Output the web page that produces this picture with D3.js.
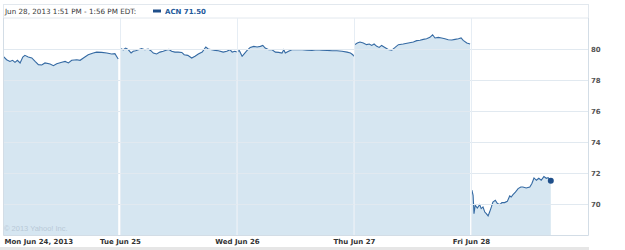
<!DOCTYPE html>
<html>
<head>
<meta charset="utf-8">
<script src="https://cdn.jsdelivr.net/npm/d3@7"></script>
<style>
  body { margin: 0; background: #fff; }
  svg { display: block; }
</style>
</head>
<body>
<div id="chart"></div>
<script>
// ACN intraday, Jun 24 - Jun 28 2013
var dayLabels = ["Mon Jun 24, 2013", "Tue Jun 25", "Wed Jun 26", "Thu Jun 27", "Fri Jun 28"];
var priceTicks = [70, 72, 74, 76, 78, 80];

// [minutes since 9:30 open, price]
var mon = [[1,79.53],[12,79.31],[23,79.2],[32,79.27],[40,79.14],[48,79.27],[57,79.1],[66,79.48],[73,79.59],[84,79.48],[96,79.42],[107,79.2],[118,78.99],[129,78.97],[140,79.1],[157,79.03],[168,78.92],[179,79.05],[196,79.14],[207,79.2],[218,79.1],[229,79.27],[246,79.31],[257,79.27],[268,79.42],[284,79.63],[301,79.74],[312,79.8],[329,79.78],[346,79.74],[362,79.68],[373,79.7],[384,79.35]];
var tue = [[3,80.02],[11,79.95],[19,80.06],[28,79.95],[37,79.74],[44,79.85],[52,79.89],[61,79.95],[72,80.02],[83,79.95],[94,80.0],[103,79.89],[111,79.74],[122,79.68],[133,79.8],[144,79.85],[156,79.93],[163,79.97],[172,79.85],[183,79.8],[194,79.8],[206,79.78],[214,79.63],[226,79.59],[239,79.42],[250,79.53],[261,79.68],[274,79.8],[286,80.13],[294,80.0],[306,79.95],[317,79.91],[328,79.89],[344,79.8],[356,79.85],[367,79.95],[374,79.8],[383,79.85],[389,79.8]];
var wed = [[1,79.85],[8,79.89],[17,79.53],[26,79.74],[33,79.89],[44,80.1],[56,80.17],[67,80.13],[78,80.17],[86,80.23],[94,80.06],[106,79.95],[117,79.95],[128,79.8],[139,79.78],[150,79.74],[156,79.95],[161,79.74],[172,79.85],[183,79.95],[200,79.97],[217,79.95],[233,79.93],[250,79.91],[267,79.95],[283,79.93],[300,79.91],[317,79.89],[333,79.89],[350,79.85],[367,79.8],[378,79.74],[386,79.63],[389,79.53]];
var thu = [[3,80.28],[11,80.39],[20,80.45],[31,80.39],[42,80.28],[51,80.32],[59,80.23],[67,80.32],[76,80.17],[84,80.1],[92,80.23],[103,80.1],[114,79.97],[126,79.93],[137,80.1],[148,80.28],[164,80.32],[181,80.39],[198,80.45],[209,80.54],[220,80.56],[231,80.62],[242,80.66],[253,80.75],[262,80.92],[270,80.71],[281,80.75],[292,80.71],[303,80.66],[314,80.6],[326,80.58],[337,80.62],[348,80.66],[357,80.71],[364,80.56],[376,80.39],[387,80.32]];
var fri = [[3,70.9],[7,70.56],[10,69.38],[14,69.92],[21,69.74],[29,69.96],[34,69.7],[40,69.81],[46,69.48],[51,69.38],[57,69.23],[62,69.48],[68,69.81],[73,70.13],[81,70.24],[88,70.03],[96,69.96],[103,70.09],[112,70.09],[121,70.17],[129,70.52],[134,70.45],[140,70.6],[148,70.77],[157,70.99],[166,71.1],[173,71.1],[184,71.03],[196,71.1],[203,71.32],[210,71.68],[218,71.53],[226,71.66],[234,71.53],[243,71.77],[251,71.66],[257,71.7],[266,71.5]];

var days = [mon, tue, wed, thu, fri];
var sessionMinutes = 390;

var svgWidth = 625;
var svgHeight = 250;

var svg = d3.select("#chart")
    .append("svg")
    .attr("width", svgWidth)
    .attr("height", svgHeight);

// plot box edges (window.top is reserved, so prefixed names)
var plotLeft = 3, plotRight = 588, plotTop = 18, plotBottom = 235;

var x = d3.scaleLinear()
    .domain([0, sessionMinutes * days.length])
    .range([plotLeft, plotRight]);

var y = d3.scaleLinear()
    .domain([68, 82])
    .range([plotBottom, plotTop]);

// header box
svg.append("rect")
    .attr("x", plotLeft + 0.5).attr("y", 4.5)
    .attr("width", plotRight - plotLeft).attr("height", plotTop - 4.5)
    .style("fill", "#fff")
    .style("stroke", "#e2e8ee");

svg.append("text")
    .attr("x", 5).attr("y", 14)
    .text("Jun 28, 2013 1:51 PM - 1:56 PM EDT:")
    .style("font-family", "DejaVu Sans")
    .style("font-size", "7.2px")
    .style("fill", "#3a3a3a");

svg.append("rect")
    .attr("x", 153).attr("y", 9.5)
    .attr("width", 8).attr("height", 3)
    .style("fill", "#1f4f8a");

svg.append("text")
    .attr("x", 165).attr("y", 14)
    .text("ACN 71.50")
    .style("font-family", "DejaVu Sans")
    .style("font-size", "7px")
    .style("font-weight", "bold")
    .style("fill", "#245a9b");

// areas and lines, one per trading day
var plot = svg.append("g");

days.forEach(function (day, i) {
    var area = d3.area()
        .x(function (d) { return x(i * sessionMinutes + d[0]); })
        .y0(plotBottom)
        .y1(function (d) { return y(d[1]); });
    var line = d3.line()
        .x(function (d) { return x(i * sessionMinutes + d[0]); })
        .y(function (d) { return y(d[1]); });
    plot.append("path")
        .datum(day)
        .attr("d", area)
        .style("fill", "#d6e6f1");
    plot.append("path")
        .datum(day)
        .attr("d", line)
        .style("fill", "none")
        .style("stroke", "#356aa3")
        .style("stroke-width", 1.1);
});

// grid on top of the fill
var grid = svg.append("g");
grid.selectAll("line.h")
    .data(priceTicks)
    .enter()
    .append("line")
    .attr("x1", plotLeft).attr("x2", plotRight)
    .attr("y1", function (d) { return Math.round(y(d)) + 0.5; })
    .attr("y2", function (d) { return Math.round(y(d)) + 0.5; })
    .style("stroke", "#e1e9f0");

grid.selectAll("line.v")
    .data(d3.range(1, days.length))
    .enter()
    .append("line")
    .attr("x1", function (d) { return Math.round(x(d * sessionMinutes)) + 0.5; })
    .attr("x2", function (d) { return Math.round(x(d * sessionMinutes)) + 0.5; })
    .attr("y1", plotTop).attr("y2", plotBottom)
    .style("stroke", "#e6edf4");

// frame
svg.append("path")
    .attr("d", "M" + (plotLeft + 0.5) + "," + plotTop + "V" + (plotBottom + 0.5) + "H" + (plotRight + 0.5) + "V" + plotTop)
    .style("fill", "none")
    .style("stroke", "#d3dde6");

// last price dot
var last = fri[fri.length - 1];
svg.append("circle")
    .attr("cx", x(4 * sessionMinutes + last[0]))
    .attr("cy", y(last[1]))
    .attr("r", 3)
    .style("fill", "#1f4f8a");

// copyright
svg.append("text")
    .attr("x", 4).attr("y", 231)
    .text("\u00a9 2013 Yahoo! Inc.")
    .style("font-family", "Liberation Sans")
    .style("font-size", "7.5px")
    .style("fill", "#b9c9d7");

// right price axis
var yAxis = svg.append("g")
    .attr("transform", "translate(" + plotRight + ",0)")
    .call(d3.axisRight(y).tickValues(priceTicks).tickSize(0).tickPadding(3));
yAxis.select(".domain").remove();
yAxis.selectAll("text")
    .style("font-family", "DejaVu Sans")
    .style("font-size", "7px")
    .style("font-weight", "bold")
    .style("fill", "#555");

// bottom day axis
var xAxis = svg.append("g")
    .attr("transform", "translate(0," + plotBottom + ")")
    .call(d3.axisBottom(x)
        .tickValues(d3.range(days.length).map(function (i) { return i * sessionMinutes; }))
        .tickFormat(function (d, i) { return dayLabels[i]; })
        .tickSize(0)
        .tickPadding(4));
xAxis.select(".domain").remove();
xAxis.selectAll("text")
    .style("font-family", "DejaVu Sans")
    .style("font-size", "7px")
    .style("font-weight", "bold")
    .style("fill", "#333")
    .attr("text-anchor", function (d, i) { return i === 0 ? "start" : "middle"; })
    .attr("x", function (d, i) { return i === 0 ? 1 : 0; });

// grey strip under the axis
svg.append("rect")
    .attr("x", 0).attr("y", 247)
    .attr("width", plotRight + 1).attr("height", 3)
    .style("fill", "#e6e6e6");
</script>
</body>
</html>
